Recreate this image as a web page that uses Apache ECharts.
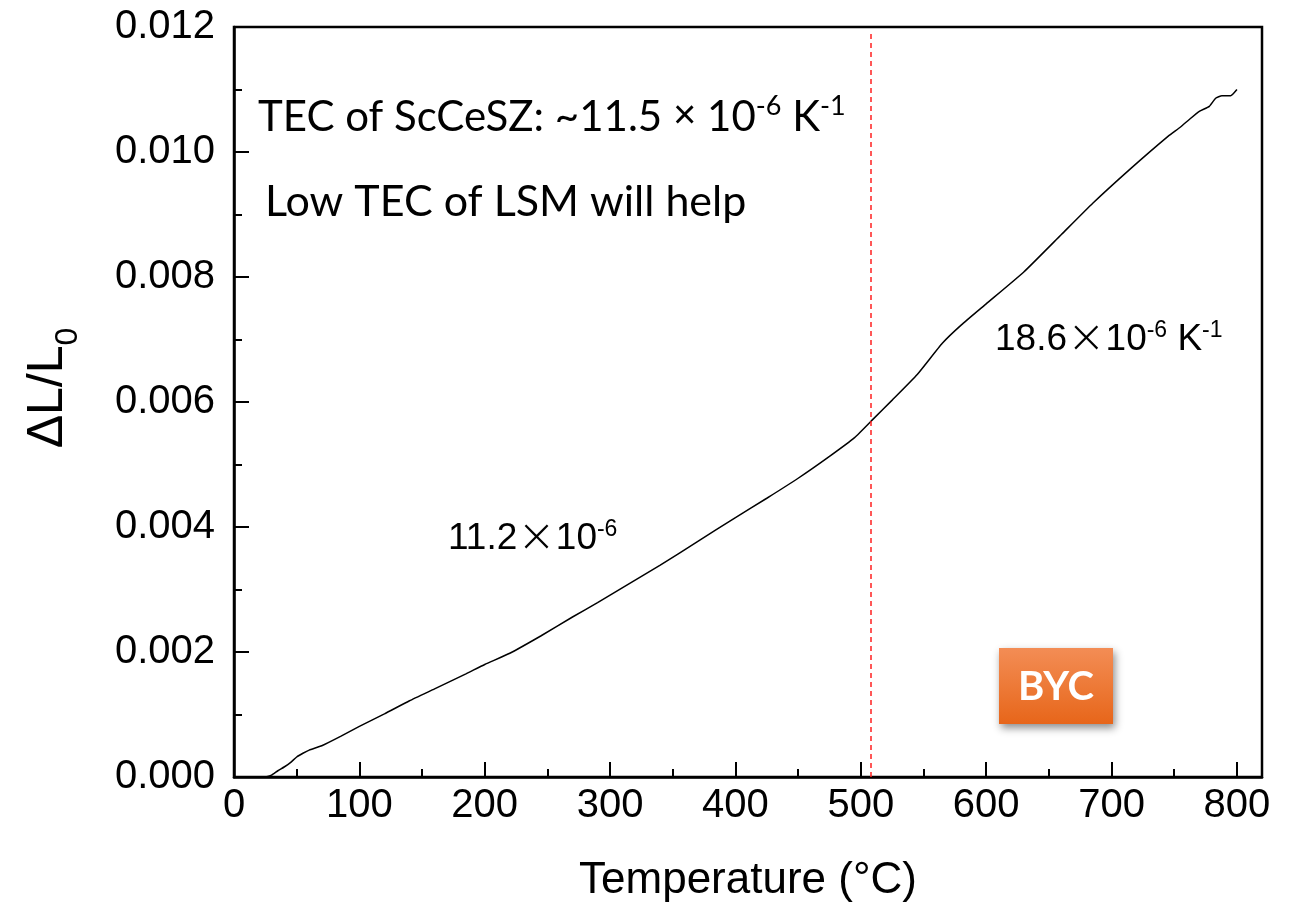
<!DOCTYPE html>
<html>
<head>
<meta charset="utf-8">
<script src="https://cdn.jsdelivr.net/npm/echarts@6/dist/echarts.min.js"></script>
<style>
  html, body { margin: 0; padding: 0; background: #ffffff; }
  #chart { width: 1294px; height: 908px; }
</style>
</head>
<body>
<div id="chart"></div>
<script>
// Dilatometry curve of BYC: relative elongation vs. temperature
const temperature = [25, 30, 35, 40, 45, 50, 55, 60, 70, 85, 100, 120, 140, 160, 185, 200, 220, 245, 270, 290,
  310, 340, 370, 400, 425, 450, 475, 495, 510, 525, 545, 565, 580, 600, 630, 660, 685, 715, 745, 755,
  762, 770, 778, 783, 788, 795, 800];
const strain = [0.00000, 0.00003, 0.00010, 0.00016, 0.00023, 0.00032, 0.00038, 0.00043, 0.00050, 0.00065,
  0.00081, 0.00101, 0.00122, 0.00141, 0.00165, 0.00180, 0.00198, 0.00226, 0.00256, 0.00279,
  0.00303, 0.00339, 0.00377, 0.00415, 0.00446, 0.00478, 0.00513, 0.00543, 0.00573, 0.00603,
  0.00644, 0.00694, 0.00723, 0.00757, 0.00808, 0.00868, 0.00918, 0.00973, 0.01025, 0.01040,
  0.01052, 0.01065, 0.01073, 0.01086, 0.01090, 0.01090, 0.01100];

const xMajorTicks = [0, 100, 200, 300, 400, 500, 600, 700, 800];
const xMinorTicks = [50, 150, 250, 350, 450, 550, 650, 750];
const transitionTemp = 508;
const transitionTop = 0.0119;

const curve = temperature.map((t, i) => [t, strain[i]]);

const chart = echarts.init(document.getElementById('chart'), null, { renderer: 'canvas' });

const ARIAL = '"Liberation Sans", Arial, sans-serif';
const SANS = 'Lato, "Open Sans", sans-serif';

const tickStyle = { color: '#000', width: 2 };

chart.setOption({
  animation: false,
  backgroundColor: '#ffffff',
  grid: {
    left: 234, right: 32, top: 27, bottom: 129,
    show: true, borderColor: '#000', borderWidth: 2.5, backgroundColor: 'transparent'
  },
  xAxis: [{
    type: 'value', min: 0, max: 820, interval: 100,
    axisLine: { show: true, lineStyle: { color: '#000', width: 2.5 } },
    axisTick: { show: true, inside: true, length: 15, lineStyle: tickStyle, customValues: xMajorTicks },
    axisLabel: { show: true, margin: 9, color: '#000', fontSize: 40, fontFamily: ARIAL,
      customValues: xMajorTicks },
    splitLine: { show: false },
    name: 'Temperature (°C)', nameLocation: 'middle', nameGap: 82,
    nameTextStyle: { color: '#000', fontSize: 44, fontFamily: ARIAL }
  }, {
    type: 'value', min: 0, max: 820, position: 'bottom',
    axisLine: { show: false },
    axisTick: { show: true, inside: true, length: 8, lineStyle: tickStyle, customValues: xMinorTicks },
    axisLabel: { show: false },
    splitLine: { show: false }
  }],
  yAxis: {
    type: 'value', min: 0, max: 0.012, interval: 0.002,
    axisLine: { show: true, lineStyle: { color: '#000', width: 2.5 } },
    axisTick: { show: true, inside: true, length: 15, lineStyle: tickStyle },
    minorTick: { show: true, splitNumber: 2, length: 8, lineStyle: tickStyle },
    axisLabel: { margin: 19, color: '#000', fontSize: 40, fontFamily: ARIAL,
      formatter: v => v.toFixed(3) },
    splitLine: { show: false },
    minorSplitLine: { show: false }
  },
  series: [{
    type: 'line',
    xAxisIndex: 0,
    data: curve,
    showSymbol: false,
    smooth: 0.15,
    lineStyle: { color: '#000', width: 1.5 },
    markLine: {
      silent: true,
      symbol: ['none', 'none'],
      label: { show: false },
      lineStyle: { color: '#ff2020', width: 1.5, type: [5, 4] },
      data: [[{ coord: [transitionTemp, 0] }, { coord: [transitionTemp, transitionTop] }]]
    }
  }],
  graphic: [
    // y-axis title
    {
      type: 'text', x: 48, y: 388, rotation: Math.PI / 2,
      style: {
        text: '{m|ΔL/L}{s|0}',
        align: 'center', verticalAlign: 'middle',
        rich: {
          m: { fontSize: 50, fontFamily: ARIAL, fill: '#000', lineHeight: 56, verticalAlign: 'middle' },
          s: { fontSize: 32, fontFamily: ARIAL, fill: '#000', lineHeight: 32, verticalAlign: 'bottom', padding: [0, 0, -8, 0] }
        }
      }
    },
    // notes
    {
      type: 'text', x: 258, y: 117,
      style: {
        text: '{m|TEC of ScCeSZ: ~11.5 }{x|×}{m| 10}{u|-6}{m| K}{u|-1}',
        align: 'left', verticalAlign: 'middle',
        rich: {
          m: { fontSize: 42, fontFamily: SANS, fill: '#000', lineHeight: 48, verticalAlign: 'middle' },
          x: { fontSize: 40, fontFamily: ARIAL, fill: '#000', lineHeight: 48, verticalAlign: 'middle' },
          u: { fontSize: 27, fontFamily: SANS, fill: '#000', lineHeight: 27, verticalAlign: 'top' }
        }
      }
    },
    {
      type: 'text', x: 265, y: 202,
      style: {
        text: 'Low TEC of LSM will help',
        align: 'left', verticalAlign: 'middle',
        fontSize: 43, fontFamily: SANS, fill: '#000'
      }
    },
    {
      type: 'text', x: 995, y: 340,
      style: {
        text: '{m|18.6}{x|×}{m|10}{u|-6}{m| K}{u|-1}',
        align: 'left', verticalAlign: 'middle',
        rich: {
          m: { fontSize: 37, fontFamily: ARIAL, fill: '#000', lineHeight: 42, verticalAlign: 'middle' },
          x: { fontSize: 46, fontFamily: '"DejaVu Sans", sans-serif', fontWeight: 200, fill: '#000', lineHeight: 42, verticalAlign: 'middle' },
          u: { fontSize: 23, fontFamily: ARIAL, fill: '#000', lineHeight: 23, verticalAlign: 'top' }
        }
      }
    },
    {
      type: 'text', x: 448, y: 539,
      style: {
        text: '{m|11.2}{x|×}{m|10}{u|-6}',
        align: 'left', verticalAlign: 'middle',
        rich: {
          m: { fontSize: 37, fontFamily: ARIAL, fill: '#000', lineHeight: 42, verticalAlign: 'middle' },
          x: { fontSize: 46, fontFamily: '"DejaVu Sans", sans-serif', fontWeight: 200, fill: '#000', lineHeight: 42, verticalAlign: 'middle' },
          u: { fontSize: 23, fontFamily: ARIAL, fill: '#000', lineHeight: 23, verticalAlign: 'top' }
        }
      }
    },
    // sample badge
    {
      type: 'group', x: 999, y: 648,
      children: [
        {
          type: 'rect', shape: { x: 0, y: 0, width: 114, height: 76 },
          style: {
            fill: new echarts.graphic.LinearGradient(0, 0, 0, 1, [
              { offset: 0, color: '#f38d55' },
              { offset: 1, color: '#e7661a' }
            ]),
            shadowBlur: 8, shadowOffsetX: 2, shadowOffsetY: 4, shadowColor: 'rgba(0,0,0,0.45)'
          }
        },
        {
          type: 'text', x: 57, y: 39,
          style: {
            text: 'BYC', align: 'center', verticalAlign: 'middle',
            fontSize: 40, fontWeight: 'bold', fontFamily: SANS, fill: '#ffffff'
          }
        }
      ]
    }
  ]
});
</script>
</body>
</html>
